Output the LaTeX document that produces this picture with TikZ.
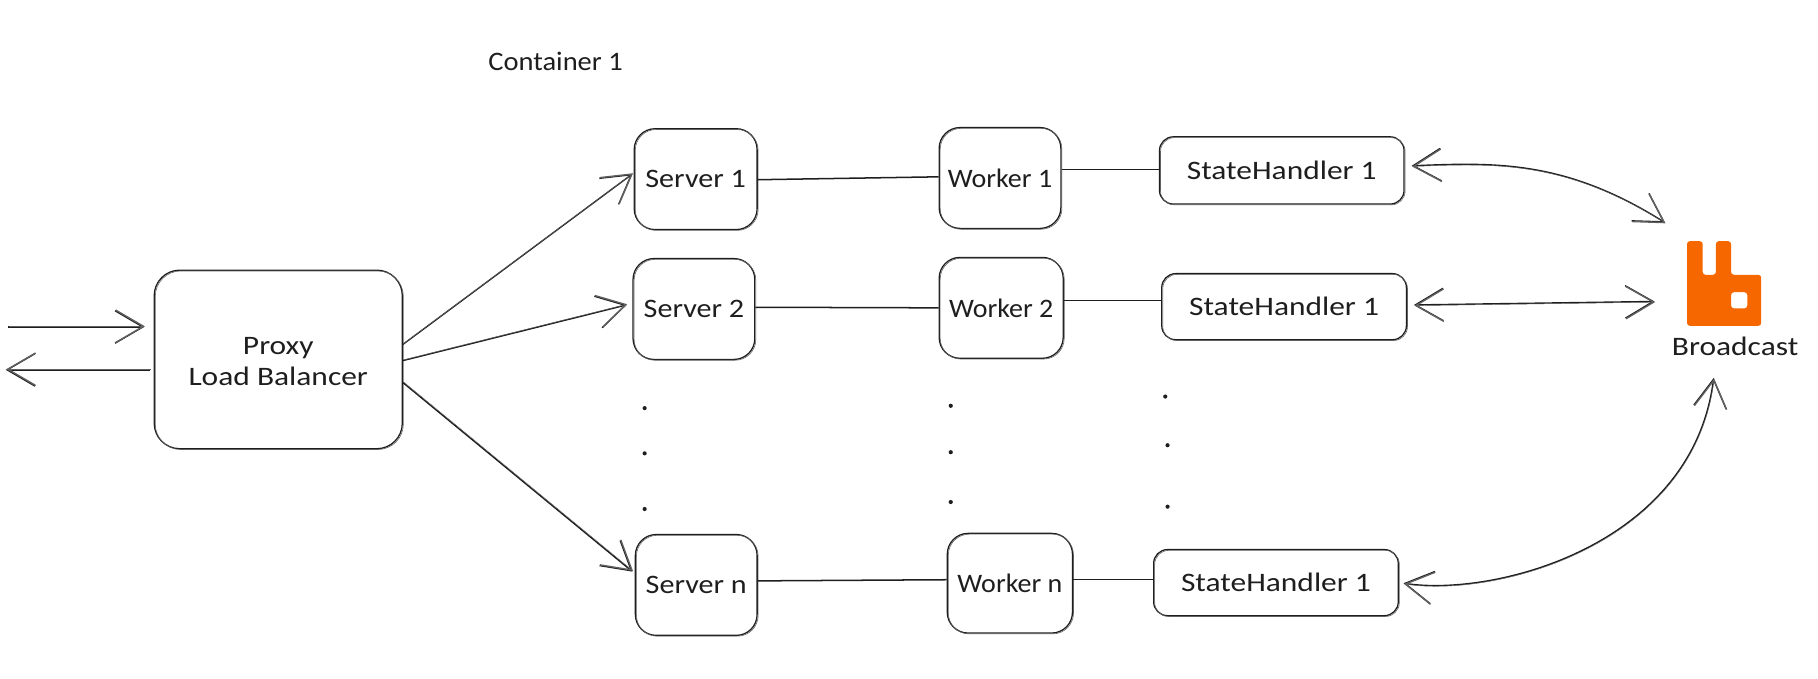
\documentclass[tikz,border=0pt]{standalone}
\usepackage{fontspec}
\setmainfont{Carlito}
\newfontfamily\wideA[FakeStretch=1.18]{Carlito}
\newfontfamily\wideB[FakeStretch=1.13]{Carlito}
\newfontfamily\wideC[FakeStretch=1.05]{Carlito}
\newfontfamily\wideD[FakeStretch=1.07]{Carlito}
\usetikzlibrary{arrows.meta}
\definecolor{ink}{HTML}{1E1E1E}
\definecolor{rabbit}{HTML}{F76700}
\tikzset{
  x=1pt,y=-1pt,
  >={Straight Barb[length=24pt,width=28pt,line width=1.2pt]},
  sketch/.style={draw=ink,line width=1.1pt,postaction={draw=ink!70,line width=0.5pt,transform canvas={shift={(0.9pt,-0.7pt)}}}},
  box/.style={sketch,rectangle,rounded corners=#1,inner sep=0pt,align=center,font=\fontsize{23}{27}\selectfont,text=ink},
  box/.default=18pt,
  txt/.style={inner sep=0pt,font=\fontsize{23}{27}\selectfont,text=ink},
  dotm/.style={circle,fill=ink,inner sep=0pt,minimum size=3.6pt},
  link/.style={draw=ink,line width=1.3pt},
  conn/.style={draw=ink,line width=1.2pt,->,postaction={draw=ink!70,line width=0.4pt,transform canvas={shift={(0.5pt,0.6pt)}}}},
  bidir/.style={draw=ink,line width=1.2pt,<->,postaction={draw=ink!70,line width=0.4pt,transform canvas={shift={(0.4pt,-0.6pt)}}}},
}
\begin{document}
\begin{tikzpicture}
\useasboundingbox (0,0) rectangle (1568,584.8);
\node[txt,anchor=west] (title) at (421,53) {\wideD Container 1};
\node[box=22pt,minimum width=214pt,minimum height=154pt] (proxy) at (240,310) {\wideA\raisebox{-2pt}[\height][\depth]{Proxy}\\\wideA\raisebox{-2pt}[\height][\depth]{Load Balancer}};
\node[box,minimum width=106pt,minimum height=87pt] (s1) at (600,154.5) {\wideB Server 1};
\node[box,minimum width=105pt,minimum height=87pt] (s2) at (598.5,266.5) {\wideB Server 2};
\node[box,minimum width=105pt,minimum height=87pt] (sn) at (600.5,504.5) {\wideB Server n};
\node[box,minimum width=105pt,minimum height=87pt] (w1) at (862.5,153.5) {\wideC Worker 1};
\node[box,minimum width=107pt,minimum height=87pt] (w2) at (863.5,265.5) {\wideC Worker 2};
\node[box,minimum width=108pt,minimum height=86pt] (wn) at (871,503) {\wideC Worker n};
\node[box=12pt,minimum width=211pt,minimum height=58pt] (h1) at (1105.5,147) {\wideA StateHandler 1};
\node[box=12pt,minimum width=211pt,minimum height=57pt] (h2) at (1107.5,264.5) {\wideA StateHandler 1};
\node[box=12pt,minimum width=211pt,minimum height=57pt] (hn) at (1100.5,502.5) {\wideA StateHandler 1};
% logo
\fill[rabbit,even odd rule,rounded corners=2.5pt]
  (1455,208) -- (1468.5,208) -- (1468.5,237) -- (1480,237) -- (1480,208) -- (1493,208) -- (1493,237) -- (1519,237) -- (1519,281) -- (1455,281) -- cycle
  (1493,252) -- (1507,252) -- (1507,266) -- (1493,266) -- cycle;
\node[inner sep=0pt,minimum width=64pt,minimum height=73pt] (logo) at (1487,244.5) {};
\node[txt] (bc) at (1496.5,299) {\wideA Broadcast};
% entry points
\coordinate (inA) at (7,282);
\coordinate (outA) at (5,319);
\coordinate (busTop) at (1436,192);
\coordinate (busMid) at (1427,260);
\coordinate (busLow) at (1478,326);
\draw[conn] (inA) -- ([xshift=-8pt,yshift=28pt]proxy.west);
\draw[conn] ([xshift=-3pt,yshift=-9pt]proxy.west) -- (outA);
\draw[conn] ([yshift=13pt]proxy.east) -- ([xshift=-1pt,yshift=4.5pt]s1.west);
\draw[conn] ([yshift=-1pt]proxy.east) -- ([xshift=-5pt,yshift=3.5pt]s2.west);
\draw[conn] ([yshift=-20pt]proxy.east) -- ([xshift=-2pt,yshift=11.5pt]sn.west);
% links
\draw[link] ([yshift=-0.5pt]s1.east) -- ([yshift=1pt]w1.west);
\draw[link] ([yshift=7.5pt]w1.east) -- ([yshift=1pt]h1.west);
\draw[link] ([yshift=1.5pt]s2.east) -- (w2.west);
\draw[link] ([yshift=6.5pt]w2.east) -- ([yshift=5.5pt]h2.west);
\draw[link] ([yshift=3.5pt]sn.east) -- ([yshift=3pt]wn.west);
\draw[link] ([yshift=3pt]wn.east) -- ([yshift=2.5pt]hn.west);
% double arrows
\draw[bidir] ([xshift=6pt,yshift=4pt]h1.east) .. controls (1290,140) and (1350,138) .. (busTop);
\draw[bidir] ([xshift=6pt,yshift=1.5pt]h2.east) -- (busMid);
\draw[bidir] ([xshift=4pt,yshift=-0.5pt]hn.east) .. controls (1290,515) and (1460,470) .. (busLow);
% dots
\foreach \n/\x/\y in {a/556/352,b/556/391,c/556/439,d/820/350,e/820/390,f/820/433,g/1005/342,h/1007/384,i/1007/437}
  \node[dotm] (dot\n) at (\x,\y) {};
\end{tikzpicture}
\end{document}
